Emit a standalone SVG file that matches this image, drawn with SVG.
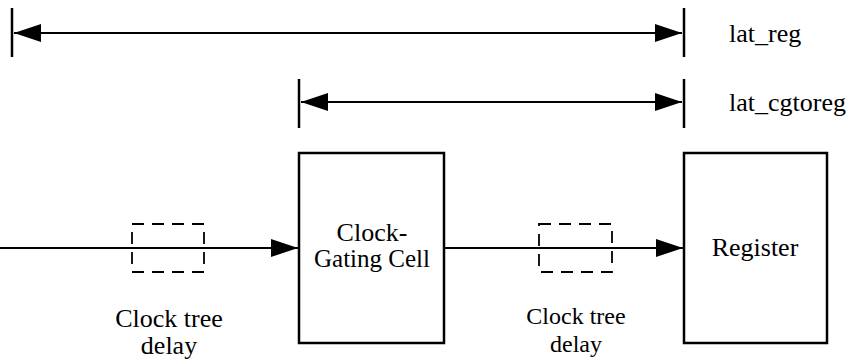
<svg xmlns="http://www.w3.org/2000/svg" width="850" height="362" viewBox="0 0 850 362">
<defs>
<marker id="ah" viewBox="0 0 27 18" refX="27" refY="9" markerWidth="27" markerHeight="18" markerUnits="userSpaceOnUse" orient="auto-start-reverse">
<path d="M0,0 L27,9 L0,18 Z" fill="#000"/>
</marker>
</defs>
<style>
.ln{stroke:#000;stroke-width:2.2;fill:none}
.tk{stroke:#000;stroke-width:2.5;fill:none}
.bx{stroke:#000;stroke-width:2.5;fill:#fff}
.ds{stroke:#000;stroke-width:1.8;fill:none;stroke-dasharray:12,8}
text{fill:#000;font-family:"Liberation Serif","Times New Roman",serif;font-size:26px}
.c{text-anchor:middle}
</style>
<rect width="850" height="362" fill="#fff"/>
<g id="connectors">
<line class="tk" x1="12" y1="8" x2="12" y2="57"/>
<line class="tk" x1="684" y1="8" x2="684" y2="57"/>
<line class="ln" x1="14" y1="33" x2="682" y2="33" marker-start="url(#ah)" marker-end="url(#ah)"/>
<line class="tk" x1="299" y1="79" x2="299" y2="128"/>
<line class="tk" x1="684" y1="79" x2="684" y2="128"/>
<line class="ln" x1="301" y1="102" x2="682" y2="102" marker-start="url(#ah)" marker-end="url(#ah)"/>
<line class="ln" x1="0" y1="248" x2="298" y2="248" marker-end="url(#ah)"/>
<line class="ln" x1="444" y1="248" x2="683" y2="248" marker-end="url(#ah)"/>
</g>
<g id="label-lat-reg"><text x="729" y="42">lat_reg</text></g>
<g id="label-lat-cgtoreg"><text x="729" y="111">lat_cgtoreg</text></g>
<g id="delay1">
<rect class="ds" x="132" y="224" width="72" height="48"/>
<text class="c" x="169" y="327">Clock tree</text>
<text class="c" x="169" y="354">delay</text>
</g>
<g id="cg-cell">
<rect class="bx" x="299" y="153" width="145" height="190"/>
<text class="c" x="372" y="241">Clock-</text>
<text class="c" x="372" y="267" style="font-size:25px">Gating Cell</text>
</g>
<g id="delay2">
<rect class="ds" x="539" y="224" width="73" height="48"/>
<text class="c" x="576" y="324" style="font-size:24px">Clock tree</text>
<text class="c" x="576" y="352" style="font-size:24px">delay</text>
</g>
<g id="register">
<rect class="bx" x="684" y="153" width="143" height="190"/>
<text class="c" x="755" y="256">Register</text>
</g>
</svg>
